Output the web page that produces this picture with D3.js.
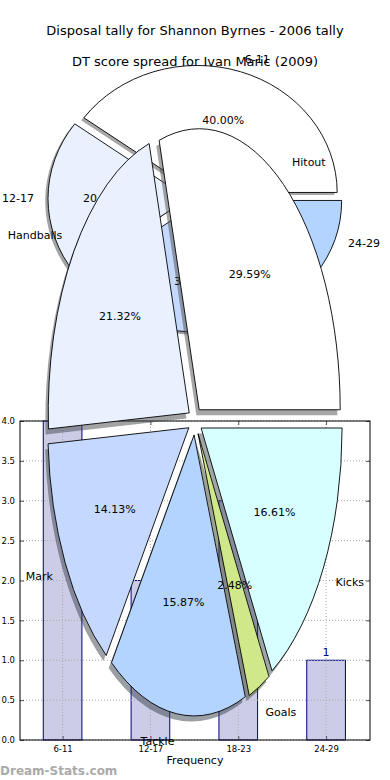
<!DOCTYPE html>
<html>
<head>
<meta charset="utf-8">
<script src="https://cdn.jsdelivr.net/npm/d3@7"></script>
<style>
  body { margin: 0; background: #fff; }
  text { font-family: "DejaVu Sans", sans-serif; }
</style>
</head>
<body>
<div id="chart"></div>
<script>
// data
var tallyLabels = ["6-11", "12-17", "18-23", "24-29"];
var tallyValues = [4, 2, 3, 1];
var statLabels = ["Hitout", "Handballs", "Mark", "Tackle", "Goals", "Kicks"];
var statValues = [29.59, 21.32, 14.13, 15.87, 2.48, 16.61];
var wedgeColors = ["#ffffff", "#eaf1fe", "#c5d9fe", "#b3d4fe", "#cfe98a", "#d8ffff"];
var yTicks = [0, 0.5, 1, 1.5, 2, 2.5, 3, 3.5, 4];

var W = 390, H = 780;
var svg = d3.select("#chart").append("svg")
    .attr("width", W)
    .attr("height", H);
svg.append("rect").attr("width", W).attr("height", H).attr("fill", "#fff");

var pie = d3.pie().sort(null).startAngle(0).endAngle(2 * Math.PI);

// draws an elliptical exploded pie with matplotlib-like shadows
function drawPie(g, values, labels, box, opts) {
  var sx = d3.scaleLinear().domain([-1, 1]).range([box.cx - box.rx, box.cx + box.rx]);
  var sy = d3.scaleLinear().domain([-1, 1]).range([box.cy + box.ry, box.cy - box.ry]);
  var arcs = pie(values);
  var total = d3.sum(values);

  function wedge(d, ox, oy) {
    var m = (d.startAngle + d.endAngle) / 2;
    var ux = opts.explode * Math.cos(m) + ox, uy = opts.explode * Math.sin(m) + oy;
    var a0 = d.startAngle, a1 = d.endAngle;
    var large = (a1 - a0) > Math.PI ? 1 : 0;
    return "M" + sx(ux) + "," + sy(uy) +
      "L" + sx(ux + Math.cos(a0)) + "," + sy(uy + Math.sin(a0)) +
      "A" + box.rx + "," + box.ry + " 0 " + large + " 0 " +
      sx(ux + Math.cos(a1)) + "," + sy(uy + Math.sin(a1)) + "Z";
  }

  g.selectAll("path.shadow").data(arcs).enter().append("path")
    .attr("class", "shadow")
    .attr("d", function(d) { return wedge(d, -0.02, -0.02); })
    .attr("fill", function(d, i) {
      var c = d3.rgb(wedgeColors[i]);
      return d3.rgb(c.r * 0.3, c.g * 0.3, c.b * 0.3);
    })
    .attr("fill-opacity", 0.5);

  g.selectAll("path.wedge").data(arcs).enter().append("path")
    .attr("class", "wedge")
    .attr("d", function(d) { return wedge(d, 0, 0); })
    .attr("fill", function(d, i) { return wedgeColors[i]; })
    .attr("stroke", "#000")
    .attr("stroke-width", 0.9)
    .attr("stroke-linejoin", "miter");

  arcs.forEach(function(d, i) {
    var m = (d.startAngle + d.endAngle) / 2;
    var ux = opts.explode * Math.cos(m), uy = opts.explode * Math.sin(m);
    var lx = ux + 1.1 * Math.cos(m), ly = uy + 1.1 * Math.sin(m);
    g.append("text")
      .attr("x", sx(lx)).attr("y", sy(ly))
      .attr("dy", "0.35em")
      .attr("text-anchor", Math.cos(m) > -1e-6 ? "start" : "end")
      .attr("font-size", 11)
      .attr("fill", "#000")
      .text(labels[i]);
    var px = ux + 0.6 * Math.cos(m), py = uy + 0.6 * Math.sin(m);
    g.append("text")
      .attr("x", sx(px)).attr("y", sy(py))
      .attr("dy", "0.35em")
      .attr("text-anchor", "middle")
      .attr("font-size", 11)
      .attr("fill", "#000")
      .text((d.value / total * 100).toFixed(2) + "%");
  });
}

// first pie: disposal tally
var gA = svg.append("g");
drawPie(gA, tallyValues, tallyLabels, {cx: 195, cy: 198.5, rx: 140, ry: 127}, {explode: 0.05});

// bar chart
var bar = {left: 20, right: 370, top: 421, bottom: 740};
var x = d3.scaleLinear().domain([-0.485, 3.5]).range([bar.left, bar.right]);
var y = d3.scaleLinear().domain([0, 4]).range([bar.bottom, bar.top]);
var barW = 0.44;
var gB = svg.append("g");

gB.append("rect")
  .attr("x", bar.left).attr("y", bar.top)
  .attr("width", bar.right - bar.left).attr("height", bar.bottom - bar.top)
  .attr("fill", "#fff");

gB.selectAll("rect.bar").data(tallyValues).enter().append("rect")
  .attr("class", "bar")
  .attr("x", function(d, i) { return x(i) - (x(barW) - x(0)) / 2; })
  .attr("y", function(d) { return y(d); })
  .attr("width", x(barW) - x(0))
  .attr("height", function(d) { return y(0) - y(d); })
  .attr("fill", "navy")
  .attr("fill-opacity", 0.2)
  .attr("stroke", "navy")
  .attr("stroke-width", 1);

// grid
gB.selectAll("line.gy").data(yTicks).enter().append("line")
  .attr("x1", bar.left).attr("x2", bar.right)
  .attr("y1", function(d) { return y(d); }).attr("y2", function(d) { return y(d); })
  .attr("stroke", "#aaa").attr("stroke-width", 1).attr("stroke-dasharray", "1,2");
gB.selectAll("line.gx").data(tallyLabels).enter().append("line")
  .attr("x1", function(d, i) { return x(i); }).attr("x2", function(d, i) { return x(i); })
  .attr("y1", bar.top).attr("y2", bar.bottom)
  .attr("stroke", "#aaa").attr("stroke-width", 1).attr("stroke-dasharray", "1,2");

// bar value labels
gB.selectAll("text.val").data(tallyValues).enter().append("text")
  .attr("x", function(d, i) { return x(i); })
  .attr("y", function(d) { return y(d) - 4; })
  .attr("text-anchor", "middle")
  .attr("font-size", 11)
  .attr("fill", "navy")
  .text(function(d) { return d; });

// axes
var axL = d3.axisLeft(y).tickValues(yTicks).tickFormat(d3.format(".1f")).tickSizeInner(-4).tickSizeOuter(0).tickPadding(5);
var axR = d3.axisRight(y).tickValues(yTicks).tickFormat("").tickSizeInner(-4).tickSizeOuter(0);
var axBt = d3.axisBottom(x).tickValues([0, 1, 2, 3]).tickFormat(function(d) { return tallyLabels[d]; })
  .tickSizeInner(-4).tickSizeOuter(0).tickPadding(6);
var axT = d3.axisTop(x).tickValues([0, 1, 2, 3]).tickFormat("").tickSizeInner(-4).tickSizeOuter(0);

function styleAxis(g) {
  g.select(".domain").remove();
  g.selectAll(".tick line").attr("stroke", "#555");
  g.selectAll(".tick text").attr("font-size", 8.5).attr("fill", "#000")
    .attr("font-family", "DejaVu Sans, sans-serif");
}
gB.append("g").attr("transform", "translate(" + bar.left + ",0)").call(axL).call(styleAxis);
gB.append("g").attr("transform", "translate(" + bar.right + ",0)").call(axR).call(styleAxis);
gB.append("g").attr("transform", "translate(0," + bar.bottom + ")").call(axBt).call(styleAxis);
gB.append("g").attr("transform", "translate(0," + bar.top + ")").call(axT).call(styleAxis);

gB.append("rect")
  .attr("x", bar.left).attr("y", bar.top)
  .attr("width", bar.right - bar.left).attr("height", bar.bottom - bar.top)
  .attr("fill", "none").attr("stroke", "#000").attr("stroke-width", 1);

gB.append("text")
  .attr("x", (bar.left + bar.right) / 2).attr("y", 764)
  .attr("text-anchor", "middle").attr("font-size", 11)
  .text("Frequency");

// second pie: stat spread, on top of everything
var gC = svg.append("g");
drawPie(gC, statValues, statLabels, {cx: 195, cy: 421, rx: 141, ry: 281}, {explode: 0.05});

// titles
svg.append("text").attr("x", 195).attr("y", 35).attr("text-anchor", "middle")
  .attr("font-size", 13).text("Disposal tally for Shannon Byrnes - 2006 tally");
svg.append("text").attr("x", 195).attr("y", 66).attr("text-anchor", "middle")
  .attr("font-size", 13).text("DT score spread for Ivan Maric (2009)");

// watermark
svg.append("text").attr("x", 0).attr("y", 775)
  .attr("font-size", 12).attr("font-weight", "bold").attr("fill", "#aaa")
  .text("Dream-Stats.com");
</script>
</body>
</html>
